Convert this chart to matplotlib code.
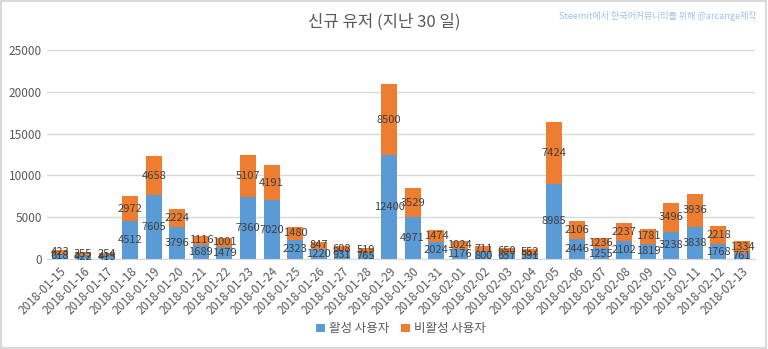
import matplotlib.pyplot as plt
import matplotlib.transforms as mtransforms
import numpy as np

plt.rcParams['font.family'] = ['Noto Sans CJK KR', 'DejaVu Sans']

dates = ['2018-01-15', '2018-01-16', '2018-01-17', '2018-01-18', '2018-01-19',
         '2018-01-20', '2018-01-21', '2018-01-22', '2018-01-23', '2018-01-24',
         '2018-01-25', '2018-01-26', '2018-01-27', '2018-01-28', '2018-01-29',
         '2018-01-30', '2018-01-31', '2018-02-01', '2018-02-02', '2018-02-03',
         '2018-02-04', '2018-02-05', '2018-02-06', '2018-02-07', '2018-02-08',
         '2018-02-09', '2018-02-10', '2018-02-11', '2018-02-12', '2018-02-13']
active = [618, 422, 415, 4512, 7605, 3796, 1689, 1479, 7360, 7020,
          2323, 1220, 931, 765, 12400, 4971, 2024, 1176, 800, 657,
          591, 8985, 2446, 1255, 2102, 1819, 3238, 3838, 1768, 761]
inactive = [423, 355, 254, 2972, 4658, 2224, 1116, 1001, 5107, 4191,
            1480, 847, 608, 519, 8500, 3529, 1474, 1024, 711, 650,
            552, 7424, 2106, 1236, 2237, 1781, 3496, 3936, 2218, 1334]

blue = '#5b9bd5'
orange = '#ed7d31'
txt = '#595959'

fig = plt.figure(figsize=(7.68, 3.49), dpi=100)
ax = fig.add_axes([0.061, 0.258, 0.922, 0.599])

x = np.arange(len(dates))
b1 = ax.bar(x, active, width=0.68, color=blue, label='활성 사용자', zorder=2)
b2 = ax.bar(x, inactive, width=0.68, bottom=active, color=orange, label='비활성 사용자', zorder=2)
ax.bar_label(b1, labels=[str(v) for v in active], label_type='center', fontsize=8, color='#404040')
ax.bar_label(b2, labels=[str(v) for v in inactive], label_type='center', fontsize=8, color='#404040')

ax.set_xlim(-0.55, len(dates) - 0.45)
ax.set_ylim(0, 25000)
ax.set_yticks(range(0, 25001, 5000))
ax.set_xticks(x)
ax.set_xticklabels(dates, rotation=45, ha='right', rotation_mode='anchor', fontsize=8.5, color=txt)
shift = mtransforms.ScaledTranslation(5 / 100, 0, fig.dpi_scale_trans)
for lbl in ax.get_xticklabels():
    lbl.set_transform(lbl.get_transform() + shift)
ax.tick_params(axis='y', labelsize=8.5, labelcolor=txt, length=0)
ax.tick_params(axis='x', length=0, pad=4)
ax.grid(axis='y', color='#d9d9d9', linewidth=1, zorder=0)
for s in ['top', 'right', 'left']:
    ax.spines[s].set_visible(False)
ax.spines['bottom'].set_color('#d9d9d9')

fig.text(0.5, 0.935, '신규 유저 (지난 30 일)', ha='center', va='center', fontsize=12, color=txt)
fig.text(0.985, 0.955, 'Steemit에서 한국어커뮤니티를 위해 @arcange제작', ha='right', va='center',
         fontsize=6.5, color='#9dc3e6')

ax.legend(loc='center', bbox_to_anchor=(0.5, -0.335), ncol=2, frameon=False, fontsize=9,
          handlelength=0.7, handleheight=0.7, handletextpad=0.3, columnspacing=1.0, labelcolor=txt)

fig.patches.append(plt.Rectangle((0.001, 0.002), 0.997, 0.995, transform=fig.transFigure,
                                 fill=False, edgecolor='#d9d9d9', linewidth=1.5))

fig.savefig('out.png', dpi=100)
